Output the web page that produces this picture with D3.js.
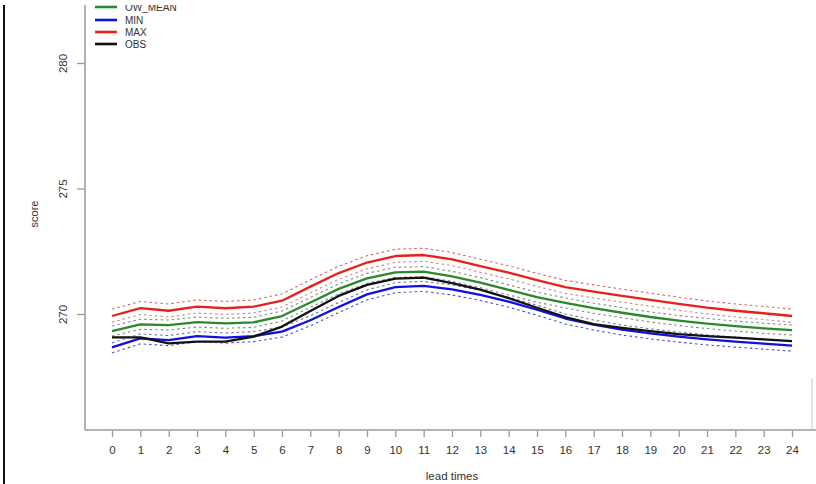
<!DOCTYPE html>
<html>
<head>
<meta charset="utf-8">
<script src="https://cdn.jsdelivr.net/npm/d3@7/dist/d3.min.js"></script>
<style>
  html, body { margin: 0; padding: 0; background: #fff; }
  svg { display: block; font-family: "Liberation Sans", Arial, sans-serif; }
</style>
</head>
<body>
<svg id="chart" width="816" height="484"></svg>
<script>
// Lead times (hours) on the x axis
const leadTimes = d3.range(0, 25);
const xTickLabels = leadTimes.map(String);
const yTickValues = [270, 275, 280];

// Score per lead time for each series
const owMean = [269.32, 269.59, 269.56, 269.68, 269.63, 269.67, 269.92, 270.46, 271.00, 271.42, 271.66, 271.69, 271.50, 271.25, 270.96, 270.67, 270.44, 270.23, 270.05, 269.88, 269.74, 269.62, 269.52, 269.43, 269.36];
const minSeries = [268.67, 269.03, 268.96, 269.12, 269.06, 269.12, 269.30, 269.75, 270.28, 270.78, 271.07, 271.12, 270.98, 270.76, 270.49, 270.17, 269.82, 269.58, 269.38, 269.23, 269.10, 268.99, 268.90, 268.82, 268.74];
const maxSeries = [269.92, 270.23, 270.13, 270.29, 270.23, 270.29, 270.53, 271.09, 271.63, 272.05, 272.31, 272.35, 272.18, 271.91, 271.65, 271.35, 271.07, 270.89, 270.72, 270.56, 270.40, 270.25, 270.13, 270.03, 269.92];
const obsSeries = [269.07, 269.07, 268.83, 268.90, 268.90, 269.10, 269.50, 270.12, 270.72, 271.16, 271.41, 271.45, 271.23, 270.97, 270.63, 270.25, 269.88, 269.60, 269.45, 269.32, 269.20, 269.12, 269.06, 268.99, 268.92];

// Dotted uncertainty bounds around the forecast series
const maxUpper = [270.19, 270.50, 270.40, 270.56, 270.50, 270.56, 270.80, 271.36, 271.90, 272.32, 272.58, 272.62, 272.45, 272.18, 271.92, 271.62, 271.34, 271.16, 270.99, 270.83, 270.67, 270.52, 270.40, 270.30, 270.19];
const maxLower = [269.67, 269.98, 269.88, 270.04, 269.98, 270.04, 270.28, 270.84, 271.38, 271.80, 272.06, 272.10, 271.93, 271.66, 271.40, 271.10, 270.82, 270.64, 270.47, 270.31, 270.15, 270.00, 269.88, 269.78, 269.67];
const meanUpper = [269.52, 269.79, 269.76, 269.88, 269.83, 269.87, 270.12, 270.66, 271.20, 271.62, 271.86, 271.89, 271.70, 271.45, 271.16, 270.87, 270.64, 270.43, 270.25, 270.08, 269.94, 269.82, 269.72, 269.63, 269.56];
const meanLower = [269.12, 269.39, 269.36, 269.48, 269.43, 269.47, 269.72, 270.26, 270.80, 271.22, 271.46, 271.49, 271.30, 271.05, 270.76, 270.47, 270.24, 270.03, 269.85, 269.68, 269.54, 269.42, 269.32, 269.23, 269.16];
const minUpper = [268.85, 269.21, 269.14, 269.30, 269.24, 269.30, 269.48, 269.93, 270.46, 270.96, 271.25, 271.30, 271.16, 270.94, 270.67, 270.35, 270.00, 269.76, 269.56, 269.41, 269.28, 269.17, 269.08, 269.00, 268.92];
const minLower = [268.45, 268.81, 268.74, 268.90, 268.84, 268.90, 269.08, 269.53, 270.06, 270.56, 270.85, 270.90, 270.76, 270.54, 270.27, 269.95, 269.60, 269.36, 269.16, 269.01, 268.88, 268.77, 268.68, 268.60, 268.52];

const seriesNames = ["OW_MEAN", "MIN", "MAX", "OBS"];
const seriesColors = ["#2a8a2a", "#1010e0", "#e8201c", "#111111"];

const svg = d3.select("#chart");
const axisColor = "#9a9a9a";
const textColor = "#333";

const axisLeftX = 85, axisBottomY = 430;
const x = d3.scaleLinear().domain([0, 24]).range([112, 792]);
const y = d3.scaleLinear().domain([270, 280]).range([314, 63]);

// outer frame line on the far left
svg.append("line").attr("x1", 4).attr("x2", 4).attr("y1", 0).attr("y2", 484)
  .attr("stroke", "#111").attr("stroke-width", 2);

// axis lines
svg.append("line").attr("x1", axisLeftX).attr("x2", axisLeftX).attr("y1", 0).attr("y2", axisBottomY)
  .attr("stroke", axisColor).attr("stroke-width", 1.5);
svg.append("line").attr("x1", axisLeftX).attr("x2", 816).attr("y1", axisBottomY).attr("y2", axisBottomY)
  .attr("stroke", axisColor).attr("stroke-width", 1.5);
svg.append("line").attr("x1", 812).attr("x2", 812).attr("y1", 378).attr("y2", axisBottomY)
  .attr("stroke", "#c8c8c8").attr("stroke-width", 1);

// x axis ticks and labels
const xAxis = d3.axisBottom(x).tickValues(leadTimes).tickFormat((d, i) => xTickLabels[i])
  .tickSizeInner(6).tickSizeOuter(0).tickPadding(9);
const gx = svg.append("g").attr("transform", `translate(0,${axisBottomY + 1})`).call(xAxis);
gx.select(".domain").remove();
gx.selectAll(".tick line").attr("stroke", axisColor).attr("stroke-width", 1.3);
gx.selectAll(".tick text").attr("fill", textColor).attr("font-size", "11.5px")
  .attr("font-family", "Liberation Sans, Arial, sans-serif");

// y axis ticks and rotated labels
const yAxis = d3.axisLeft(y).tickValues(yTickValues).tickFormat(d3.format("d"))
  .tickSizeInner(8).tickSizeOuter(0);
const gy = svg.append("g").attr("transform", `translate(${axisLeftX},0)`).call(yAxis);
gy.select(".domain").remove();
gy.selectAll(".tick line").attr("stroke", axisColor).attr("stroke-width", 1.3);
gy.selectAll(".tick text")
  .attr("fill", textColor).attr("font-size", "11.5px")
  .attr("font-family", "Liberation Sans, Arial, sans-serif")
  .attr("x", null)
  .attr("text-anchor", "middle")
  .attr("transform", "translate(-22,0) rotate(-90)")
  .attr("dy", "0.35em");

// axis titles
svg.append("text").attr("x", 452).attr("y", 480).attr("text-anchor", "middle")
  .attr("font-size", "11.5px").attr("fill", textColor).text("lead times");
svg.append("text").attr("transform", "translate(38,214) rotate(-90)").attr("text-anchor", "middle")
  .attr("font-size", "11px").attr("fill", textColor).text("score");

const line = d3.line().x((d, i) => x(leadTimes[i])).y(d => y(d));

// dotted bounds
const bands = [
  { data: maxUpper, color: "#e85a56" },
  { data: maxLower, color: "#c98a88" },
  { data: meanUpper, color: "#7f8f7f" },
  { data: meanLower, color: "#7f887f" },
  { data: minUpper, color: "#6e76a8" },
  { data: minLower, color: "#4a52c0" }
];
svg.append("g").selectAll("path").data(bands).join("path")
  .attr("d", b => line(b.data))
  .attr("fill", "none").attr("stroke", b => b.color)
  .attr("stroke-width", 1.1).attr("stroke-dasharray", "2.5,3");

// main series
const mainSeries = [maxSeries, owMean, minSeries, obsSeries];
const mainColors = [seriesColors[2], seriesColors[0], seriesColors[1], seriesColors[3]];
svg.append("g").selectAll("path").data(mainSeries).join("path")
  .attr("d", d => line(d))
  .attr("fill", "none").attr("stroke", (d, i) => mainColors[i])
  .attr("stroke-width", 2.3).attr("stroke-linejoin", "round");

// legend
const legend = svg.append("g");
const legendY = [7, 20, 32, 44];
seriesNames.forEach((name, i) => {
  legend.append("line").attr("x1", 95).attr("x2", 117)
    .attr("y1", legendY[i]).attr("y2", legendY[i])
    .attr("stroke", seriesColors[i]).attr("stroke-width", 2.6);
  legend.append("text").attr("x", 125).attr("y", legendY[i] + 3.6)
    .attr("font-size", "10px").attr("fill", textColor).text(name);
});

// blank strip along the top edge
svg.append("rect").attr("x", 0).attr("y", 0).attr("width", 816).attr("height", 5).attr("fill", "#fff");
</script>
</body>
</html>
